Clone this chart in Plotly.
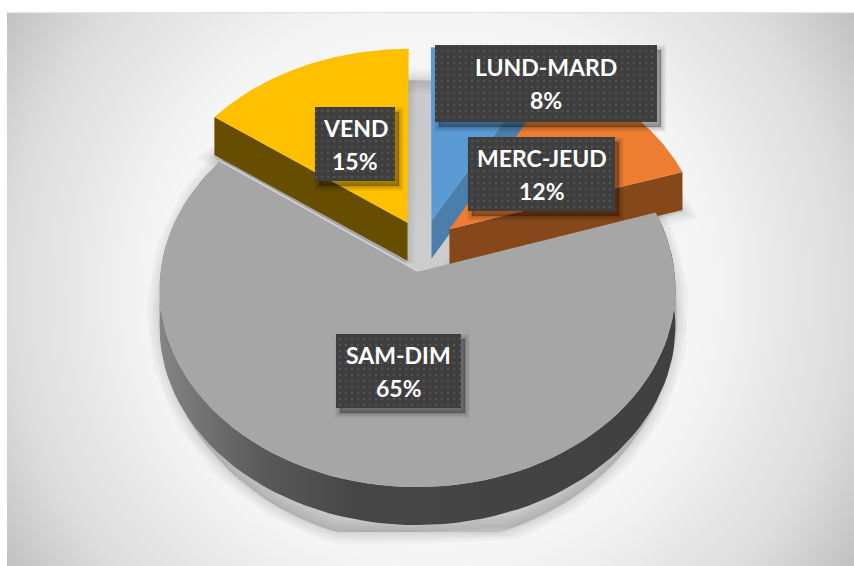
import numpy as np
import plotly.graph_objects as go

categories = ["LUND-MARD", "MERC-JEUD", "SAM-DIM", "VEND"]
shares = [8, 12, 65, 15]
top_colors = ["#5B9BD5", "#ED7D31", "#A6A6A6", "#FFC000"]
face_colors = ["#4A7EAB", "#86471B", "#444444", "#664D00"]
label_boxes = [(435, 45, 657, 122), (468, 137, 615, 211), (336, 334, 461, 408), (315, 107, 395, 181)]

CX, CY, AX, AY, K = 423.0, 245.7, 254.0, 192.3, 0.085
PULL, DEPTH = 0.136, 38.0


def project(u, v):
    w = 1 + K * v
    return CX + AX * u / w, CY - AY * v / w


def slice_geometry(start, end):
    mid = np.radians((start + end) / 2)
    ou, ov = PULL * np.sin(mid), PULL * np.cos(mid)
    th = np.radians(np.linspace(start, end, 90))
    rx, ry = project(ou + np.sin(th), ov + np.cos(th))
    ax, ay = project(ou, ov)
    return float(ax), float(ay), rx, ry


fig = go.Figure()


def poly(x, y, color=None, **kw):
    kw.setdefault("line", dict(width=0))
    if color is not None:
        kw["fillcolor"] = color
    fig.add_trace(go.Scatter(x=list(x), y=list(y), mode="lines", fill="toself",
                             hoverinfo="skip", showlegend=False, **kw))


def glow(x, y, widths=(16, 10, 5), alpha=0.05):
    for w in widths:
        fig.add_trace(go.Scatter(x=list(x), y=list(y), mode="lines", fill="toself",
                                 fillcolor=f"rgba(0,0,0,{alpha})",
                                 line=dict(width=w, color=f"rgba(0,0,0,{alpha})"),
                                 hoverinfo="skip", showlegend=False))


# background, circular gradient
BG_X, BG_Y, BG_R = 430, 289, 510
poly([BG_X - BG_R, BG_X + BG_R, BG_X + BG_R, BG_X - BG_R, BG_X - BG_R],
     [BG_Y - BG_R, BG_Y - BG_R, BG_Y + BG_R, BG_Y + BG_R, BG_Y - BG_R],
     fillgradient=dict(type="radial",
                       colorscale=[[0, "#fbfbfb"], [0.54, "#f5f5f5"], [0.83, "#dcdcdc"], [1, "#c0c0c0"]]))
fig.add_trace(go.Scatter(x=[7, 854], y=[12.5, 12.5], mode="lines", line=dict(color="#e4e4e4", width=1.5),
                         hoverinfo="skip", showlegend=False))

# angles from the values
edges = np.concatenate([[0], np.cumsum(shares)]) * 3.6
geo = [slice_geometry(edges[i], edges[i + 1]) for i in range(len(shares))]

# soft shadow of the whole pie
tt = np.radians(np.linspace(0, 360, 200))
sx = 418 + 259 * np.sin(tt)
sy = np.minimum(312 + 232 * np.cos(tt), 532)
glow(sx, sy, widths=(24, 18, 12, 6, 2), alpha=0.028)
poly(sx, sy, "rgba(0,0,0,0.05)")

# silhouettes of the two side slices throw a shadow too
for i in (3, 1):
    ax, ay, rx, ry = geo[i]
    glow(np.r_[ax, rx[::-1], rx[0], ax] + (-2 if i == 3 else 2), np.r_[ay, ry[::-1], ry[0], ay] + DEPTH + 2,
         widths=(18, 12, 6), alpha=0.03)

# back slices: cut face then top
for i, j in [(0, -1), (1, -1), (3, 0)]:
    ax, ay, rx, ry = geo[i]
    ex, ey = rx[j], ry[j]
    poly([ax, ex, ex, ax, ax], [ay, ey, ey + DEPTH, ay + DEPTH, ay], face_colors[i])
    poly(np.r_[ax, rx, ax], np.r_[ay, ry, ay], top_colors[i])

# main slice: curved side then top
ax, ay, rx, ry = geo[2]
poly(np.r_[rx, rx[::-1], rx[0]], np.r_[ry, ry[::-1] + DEPTH, ry[0]],
     fillgradient=dict(type="horizontal", start=158, stop=676,
                       colorscale=[[0, "#858585"], [0.2, "#5a5a5a"], [0.38, "#464646"], [1, "#404040"]]))
poly(np.r_[ax, rx, ax], np.r_[ay, ry, ay], top_colors[2])
fig.add_trace(go.Scatter(x=[ax, rx[-1]], y=[ay - 1, ry[-1] - 1], mode="lines",
                         line=dict(color="#d4d4d4", width=1.5), hoverinfo="skip", showlegend=False))

# data labels
LINE_GAP = 16.5
for (x0, y0, x1, y1), name, share in zip(label_boxes, categories, shares):
    bx = [x0, x1, x1, x0, x0]
    by = [y0, y0, y1, y1, y0]
    glow(np.array(bx) + 4, np.array(by) + 5, widths=(9, 5, 2), alpha=0.08)
    poly(np.array(bx) + 4, np.array(by) + 5, "rgba(0,0,0,0.1)")
    poly(bx, by, None,
         fillpattern=dict(shape=".", bgcolor="#3E3E3E", fgcolor="#525252", size=6, solidity=0.16, fillmode="replace"),
         fillcolor="#3E3E3E")
    xc, yc = (x0 + x1) / 2, (y0 + y1) / 2
    for txt, y in ((name, yc - LINE_GAP), (f"{share}%", yc + LINE_GAP)):
        fig.add_annotation(x=xc, y=y, text=txt, showarrow=False,
                           font=dict(family="Lato", size=23, color="white", weight="bold"))

fig.update_layout(
    width=854, height=566, margin=dict(l=7, r=0, t=12, b=0, pad=0, autoexpand=False),
    paper_bgcolor="white", plot_bgcolor="white", showlegend=False,
    xaxis=dict(range=[7, 854], visible=False, fixedrange=True),
    yaxis=dict(range=[566, 12], visible=False, fixedrange=True),
)
fig.write_html("out.html", config=dict(displayModeBar=False),
               post_script="document.body.style.margin='0';document.body.style.overflow='hidden';")
